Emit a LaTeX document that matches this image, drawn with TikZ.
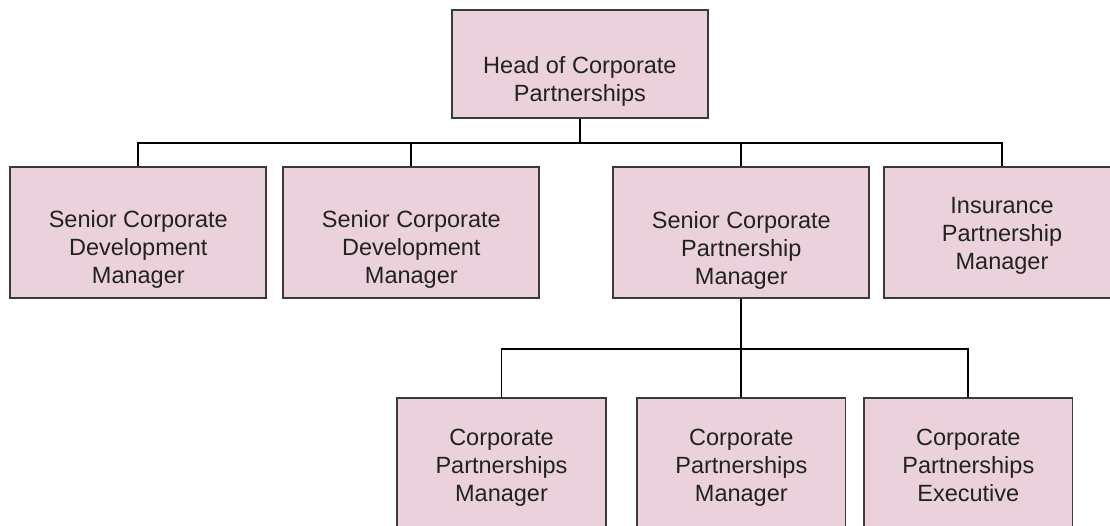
\documentclass[tikz,border=0pt]{standalone}
\usepackage{fontspec}
\setmainfont{Liberation Sans}
\usetikzlibrary{calc}
\definecolor{boxfill}{HTML}{EAD1DC}
\definecolor{boxline}{HTML}{3A3A3A}
\definecolor{inktext}{HTML}{222222}
\begin{document}
\begin{tikzpicture}[x=1pt,y=-1pt,
  role/.style={draw=boxline, line width=1.7pt, fill=boxfill, rectangle, inner sep=0pt},
  wide/.style={minimum width=256pt, minimum height=131.6pt},
  narrow/.style={minimum width=208.6pt, minimum height=132pt},
  caption/.style={align=center, font=\fontsize{23.5}{28}\selectfont, text=inktext, inner sep=0pt},
  link/.style={line width=1.7pt, black}]
\clip (0,0) rectangle (1110,526);
\fill[white] (0,0) rectangle (1110,526);

% top level
\node[role, minimum width=256.3pt, minimum height=108pt] (head) at (579.9,64) {};
\node[caption] (thead) at (579.9,81.2) {Head of Corporate\\Partnerships};

% second level
\node[role, wide] (b1) at (138.3,232.5) {};
\node[role, wide] (b2) at (411.3,232.5) {};
\node[role, wide] (b3) at (741.3,232.5) {};
\node[role, minimum width=235.4pt, minimum height=131.6pt] (b4) at (1002,232.5) {};
\node[caption] (t1) at (138.3,249.3) {Senior Corporate\\Development\\Manager};
\node[caption] (t2) at (411.3,249.3) {Senior Corporate\\Development\\Manager};
\node[caption] (t3) at (741.3,250) {Senior Corporate\\Partnership\\Manager};
\node[caption] (t4) at (1002,236.3) {Insurance\\Partnership\\Manager};

% third level
\node[role, narrow] (b5) at (501.5,464.3) {};
\node[role, narrow] (b6) at (741.3,464.3) {};
\node[role, narrow] (b7) at (968.3,464.3) {};
\node[caption] (t5) at (501.5,467.5) {Corporate\\Partnerships\\Manager};
\node[caption] (t6) at (741.3,467.5) {Corporate\\Partnerships\\Manager};
\node[caption] (t7) at (968.3,465.7) {Corporate\\Partnerships\\Executive};

% reporting lines
\draw[link] (head.south) -- ++(0,24.3) coordinate (bus1);
\foreach \b in {b1,b2,b3,b4} \draw[link] (bus1) -| (\b.north);
\draw[link] (b3.south) -- ++(0,50) coordinate (bus2);
\foreach \b in {b5,b6,b7} \draw[link] (bus2) -| (\b.north);
\end{tikzpicture}
\end{document}
